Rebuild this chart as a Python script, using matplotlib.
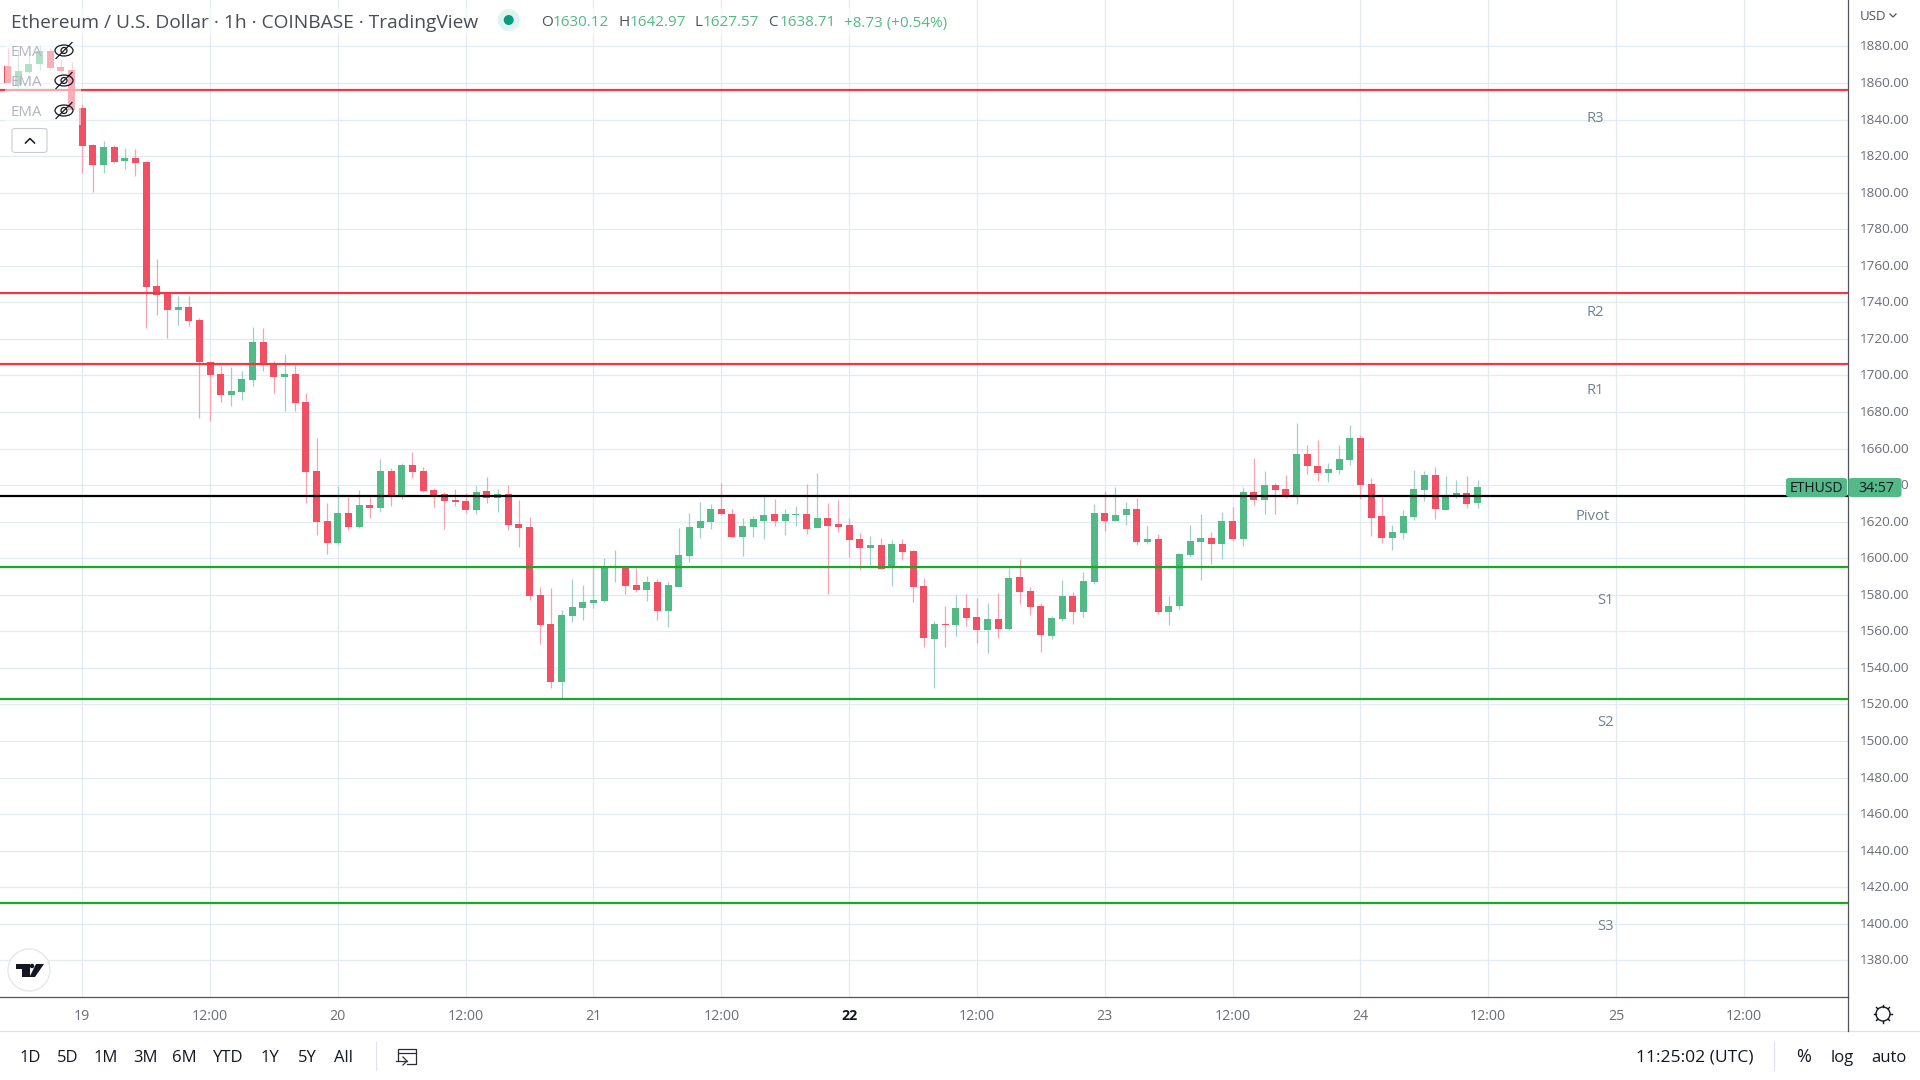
import matplotlib
matplotlib.use("Agg")
import matplotlib.pyplot as plt
from matplotlib.patches import Rectangle, Ellipse, Polygon, FancyBboxPatch
from matplotlib.lines import Line2D
from matplotlib.transforms import ScaledTranslation

plt.rcParams['font.family'] = ['Open Sans', 'DejaVu Sans']

# ---------- data ----------
hours = list(range(-7, 132))
opens = [1869.2,1858.8,1866.0,1870.3,1877.4,1868.7,1867.1,
 1846.3,1826.0,1815.1,1824.9,1817.3,1818.9,1816.7,1748.9,1745.0,1735.7,1737.4,1730.3,1707.3,1700.7,1689.2,1690.9,1697.4,1718.2,1706.8,1699.1,1700.7,1685.4,1647.7,1620.3,
 1608.3,1624.7,1617.0,1629.0,1627.4,1647.7,1634.0,1651.0,1647.7,1637.3,1635.1,1631.8,1631.3,1626.3,1636.7,1632.9,1635.1,1618.7,1617.0,1579.8,1564.0,1532.2,1568.4,1572.7,
 1575.5,1576.6,1595.0,1595.0,1585.3,1582.6,1587.0,1571.1,1584.2,1601.2,1616.5,1619.8,1626.9,1624.1,1611.6,1617.0,1620.3,1624.1,1620.3,1623.6,1624.1,1616.5,1622.0,1618.7,
 1618.1,1610.5,1605.5,1607.2,1595.2,1607.7,1603.9,1584.8,1555.8,1564.0,1563.4,1572.7,1567.8,1560.7,1566.7,1561.2,1589.7,1582.0,1573.8,1557.4,1566.7,1579.3,1570.5,1586.9,
 1624.7,1620.3,1623.6,1626.9,1608.8,1610.5,1570.5,1573.8,1601.7,1608.8,1611.0,1607.7,1620.3,1610.5,1636.2,1631.8,1640.0,1637.8,1634.0,1657.0,1650.4,1646.6,1648.2,1653.7,
 1665.7,1640.5,1623.0,1611.0,1613.8,1622.5,1637.3,1645.5,1626.3,1634.0,1635.6,1630.12]
highs = [1878.9,1878.0,1876.2,1880.7,1878.9,1872.5,1871.2,
 1848.5,1826.6,1828.2,1826.0,1824.4,1823.8,1817.3,1763.6,1745.5,1743.4,1743.4,1731.4,1707.8,1705.1,1704.6,1702.4,1726.4,1725.9,1707.8,1711.7,1705.7,1690.3,1665.7,1630.2,
 1639.5,1633.4,1637.3,1633.4,1654.2,1649.3,1652.0,1658.1,1649.9,1638.4,1636.2,1637.8,1635.6,1639.5,1644.4,1637.8,1640.0,1631.8,1622.5,1584.2,1583.7,1571.6,1588.6,1585.3,
 1596.2,1600.1,1604.5,1596.2,1594.6,1590.2,1588.6,1587.0,1616.5,1624.7,1630.7,1629.6,1641.1,1626.9,1622.0,1623.0,1635.1,1632.4,1626.9,1628.5,1640.6,1646.6,1630.2,1631.8,
 1622.0,1613.8,1612.1,1611.0,1609.9,1610.5,1604.5,1589.1,1565.6,1573.8,1579.8,1580.4,1578.2,1575.5,1580.9,1594.6,1599.5,1584.2,1575.5,1568.3,1588.0,1581.5,1592.4,1629.6,
 1636.7,1638.9,1630.7,1632.9,1617.6,1613.2,1579.3,1602.8,1618.1,1624.1,1614.3,1625.2,1628.0,1638.9,1654.8,1647.6,1641.1,1645.5,1673.9,1661.9,1664.6,1652.0,1661.9,1672.8,
 1667.4,1643.8,1633.4,1618.1,1626.3,1648.2,1647.6,1649.9,1645.0,1642.7,1645.0,1642.97]
lows = [1859.8,1857.0,1865.6,1867.0,1867.2,1866.0,1845.0,
 1810.7,1800.3,1810.7,1816.2,1812.9,1809.1,1725.9,1733.0,1720.4,1727.5,1727.0,1676.7,1675.0,1685.4,1683.2,1686.5,1694.2,1702.4,1690.3,1680.5,1680.5,1630.2,1612.7,1602.3,
 1607.4,1615.4,1616.5,1622.0,1625.2,1628.5,1632.4,1643.8,1636.2,1628.0,1615.9,1628.5,1624.7,1624.1,1630.2,1625.2,1615.4,1606.1,1577.1,1553.0,1529.0,1523.5,1565.0,1566.2,
 1572.7,1576.0,1587.0,1580.4,1581.5,1576.6,1566.2,1562.3,1584.2,1597.9,1611.0,1615.9,1623.6,1611.6,1601.2,1611.6,1610.5,1617.6,1612.7,1617.6,1613.2,1616.5,1580.4,1614.3,
 1600.6,1593.5,1596.2,1594.0,1584.8,1599.0,1576.0,1551.4,1529.0,1551.4,1557.4,1562.9,1553.6,1548.1,1556.3,1560.7,1574.9,1568.9,1548.7,1555.8,1565.6,1564.0,1567.8,1585.8,
 1614.8,1620.3,1618.1,1607.2,1607.7,1569.4,1563.4,1572.2,1600.6,1588.0,1596.8,1599.5,1609.4,1606.6,1629.0,1624.1,1624.1,1632.9,1629.6,1646.0,1642.2,1641.6,1646.0,1651.0,
 1632.3,1612.1,1608.3,1604.4,1610.5,1620.9,1631.3,1621.4,1626.3,1632.9,1627.4,1627.57]
closes = [1859.9,1866.5,1870.3,1877.4,1868.1,1866.3,1845.2,
 1825.5,1815.1,1824.9,1816.7,1818.9,1816.2,1748.3,1744.0,1735.7,1737.4,1729.7,1707.3,1700.2,1689.2,1691.4,1698.0,1718.2,1706.2,1699.1,1700.7,1684.9,1647.1,1619.8,1608.3,
 1624.7,1617.0,1629.0,1627.4,1647.7,1634.0,1651.0,1647.1,1636.7,1634.0,1631.3,1630.7,1626.3,1636.2,1632.9,1635.1,1618.1,1616.5,1579.3,1563.4,1532.2,1568.9,1573.3,1576.0,
 1577.1,1595.2,1595.4,1584.8,1582.6,1587.0,1571.1,1585.3,1601.7,1617.0,1620.3,1626.9,1624.1,1611.6,1617.6,1621.4,1623.6,1620.3,1624.1,1624.1,1615.9,1622.0,1617.6,1617.0,
 1609.9,1605.5,1607.2,1594.0,1607.7,1603.4,1584.2,1556.3,1564.0,1563.4,1572.7,1567.3,1560.7,1566.7,1561.2,1589.1,1581.5,1573.3,1557.9,1567.2,1579.3,1570.5,1587.5,1624.7,
 1620.3,1623.6,1626.9,1608.8,1610.5,1570.5,1573.8,1602.3,1609.4,1611.0,1607.7,1620.3,1610.5,1636.2,1631.8,1640.0,1637.3,1634.0,1657.0,1650.4,1646.6,1648.8,1654.2,1665.7,
 1640.0,1621.9,1611.0,1614.3,1623.0,1637.8,1645.5,1626.9,1633.4,1635.6,1629.6,1638.71]

level_names = ["R3", "R2", "R1", "Pivot", "S1", "S2", "S3"]
level_values = [1856.3, 1745.1, 1706.4, 1634.0, 1595.3, 1523.0, 1411.6]
level_colors = ["#f23645", "#f23645", "#f23645", "#000000", "#15ab27", "#15ab27", "#15ab27"]
level_label_px = [(1595, 116), (1595, 311), (1595, 389), (1593, 514), (1605, 599), (1605, 720), (1605, 924)]

price_ticks = list(range(1380, 1881, 20))
time_ticks = [0, 12, 24, 36, 48, 60, 72, 84, 96, 108, 120, 132, 144, 156]
time_labels = ["19", "12:00", "20", "12:00", "21", "12:00", "22", "12:00", "23", "12:00", "24", "12:00", "25", "12:00"]
ranges = ["1D", "5D", "1M", "3M", "6M", "YTD", "1Y", "5Y", "All"]
range_x = [30, 68, 106, 145, 184, 228, 270, 307, 344]

UP, DOWN = "#53b987", "#ef5063"
UP_W, DOWN_W = "#a3cfcb", "#f7a3b0"
GRID = "#e1ecf2"
AXC = "#50535e"
LBL = "#6a6d78"
DARK = "#131722"

# ---------- layout ----------
W, H = 1920, 1080
fig = plt.figure(figsize=(W / 100, H / 100), dpi=100, facecolor="white")
AX_R, AX_B = 1848.0, 997.0
ax = fig.add_axes([0, 1 - AX_B / H, AX_R / W, AX_B / H])

def fx(x): return x / W
def fy(y): return 1 - y / H
def ftext(x, y, s, **kw):
    kw.setdefault("va", "center")
    return fig.text(fx(x), fy(y + 2), s, zorder=20, **kw)
def fline(xs, ys, color, lw=0.72, z=20, **kw):
    fig.add_artist(Line2D([fx(v) for v in xs], [fy(v) for v in ys], color=color, lw=lw,
                          transform=fig.transFigure, zorder=z, **kw))
def frect(x0, y0, x1, y1, z=15, **kw):
    fig.add_artist(Rectangle((fx(x0), fy(y1)), (x1 - x0) / W, (y1 - y0) / H,
                             transform=fig.transFigure, zorder=z, lw=0, **kw))

PX_PER_H, X0 = 10.652, 82.2
PX_PER_P, Y1880 = 1.828, 46.4
ax.set_xlim(-X0 / PX_PER_H, (AX_R - X0) / PX_PER_H)
ax.set_ylim(1880 - (AX_B - Y1880) / PX_PER_P, 1880 + Y1880 / PX_PER_P)

ax.set_xticks(time_ticks)
ax.set_xticklabels(time_labels)
ax.set_yticks(price_ticks)
ax.set_yticklabels([f"{p:.2f}" for p in price_ticks])
ax.yaxis.tick_right()
ax.tick_params(axis="y", length=0, pad=8.5, labelsize=9.7, labelcolor=LBL)
ax.tick_params(axis="x", length=0, pad=8.5, labelsize=10.2, labelcolor=LBL)
for lab in ax.get_yticklabels():
    lab.set_transform(lab.get_transform() + ScaledTranslation(0, 1 / 100, fig.dpi_scale_trans))
for lab, txt in zip(ax.get_xticklabels(), time_labels):
    if txt == "22":
        lab.set_fontweight("bold")
        lab.set_color(DARK)
ax.grid(True, color=GRID, lw=0.9, zorder=0)
ax.set_axisbelow(True)
for s in ["top", "left"]:
    ax.spines[s].set_visible(False)
for s in ["right", "bottom"]:
    ax.spines[s].set_color(AXC)
    ax.spines[s].set_linewidth(0.9)

# ---------- candles ----------
body_w = 7 / PX_PER_H
for h, o, hi, lo, c in zip(hours, opens, highs, lows, closes):
    up = c >= o
    ax.vlines(h, lo, hi, color=UP_W if up else DOWN_W, lw=0.9, zorder=2)
    ax.bar(h, abs(c - o), bottom=min(o, c), width=body_w, color=UP if up else DOWN, lw=0, zorder=3)

# ---------- pivot levels ----------
for name, val, col, (lx, ly) in zip(level_names, level_values, level_colors, level_label_px):
    ax.axhline(val, color=col, lw=1.6, zorder=4)
    ftext(lx, ly, name, color="#6f8090", fontsize=10.6, ha="center")

# ---------- overlays ----------
frect(5, 38, 81, 125, z=10, color="white", alpha=0.55)
frect(5, 8, 957, 36, z=10, color="white", alpha=0.6)

ftext(11, 21, "Ethereum / U.S. Dollar · 1h · COINBASE · TradingView", color="#4a4d57", fontsize=13.8)
fig.add_artist(Ellipse((fx(508.7), fy(20)), 22 / W, 22 / H, transform=fig.transFigure, color="#dff3ef", zorder=19, lw=0))
fig.add_artist(Ellipse((fx(508.7), fy(20)), 10 / W, 10 / H, transform=fig.transFigure, color="#089981", zorder=20, lw=0))
for x, s, col in [(541, "O", "#50535e"), (553, "1630.12", UP), (618, "H", "#50535e"), (630, "1642.97", UP),
                  (694, "L", "#50535e"), (703, "1627.57", UP), (768, "C", "#50535e"), (780, "1638.71", UP),
                  (844, "+8.73 (+0.54%)", UP)]:
    ftext(x, 21, s, color=col, fontsize=11)

for y in [50.5, 80.5, 110.5]:
    ftext(11, y - 0.5, "EMA", color="#b2b5be", fontsize=10.8)
    fig.add_artist(Ellipse((fx(64), fy(y)), 18 / W, 11 / H, transform=fig.transFigure, fill=False,
                           ec=DARK, lw=0.9, zorder=20))
    fig.add_artist(Ellipse((fx(64), fy(y)), 6 / W, 6 / H, transform=fig.transFigure, fill=False,
                           ec=DARK, lw=0.9, zorder=20))
    fline([56, 72], [y + 8, y - 8], DARK, lw=0.9)

fig.add_artist(FancyBboxPatch((fx(12), fy(152.5)), 35 / W, 24 / H, boxstyle="round,pad=0,rounding_size=0.002",
                              transform=fig.transFigure, fc="white", ec="#c9cbd3", lw=0.8, zorder=20))
fline([25.5, 30, 34.5], [143, 138.5, 143], DARK, lw=1.1)

# TradingView logo
fig.add_artist(Ellipse((fx(29), fy(970)), 42 / W, 42 / H, transform=fig.transFigure, fc="white",
                       ec="#e6e7ea", lw=1.0, zorder=20))
def poly(points, color=DARK):
    fig.add_artist(Polygon([(fx(a), fy(b)) for a, b in points], closed=True, transform=fig.transFigure,
                           fc=color, lw=0, zorder=21))
poly([(16, 964), (29.5, 964), (29.5, 977), (21.5, 977), (21.5, 968.5), (16, 968.5)])
poly([(36, 964), (44, 964), (35, 977), (29.5, 977)])
fig.add_artist(Ellipse((fx(32), fy(966)), 4.5 / W, 4.5 / H, transform=fig.transFigure, fc=DARK, lw=0, zorder=21))

# last price labels
fig.add_artist(FancyBboxPatch((fx(1786), fy(497)), 61 / W, 19 / H, boxstyle="round,pad=0,rounding_size=0.002",
                              transform=fig.transFigure, fc=UP, lw=0, zorder=18))
fig.add_artist(FancyBboxPatch((fx(1848.5), fy(497)), 53 / W, 19 / H, boxstyle="round,pad=0,rounding_size=0.002",
                              transform=fig.transFigure, fc=UP, lw=0, zorder=18))
ftext(1816, 486.5, "ETHUSD", color=DARK, fontsize=10, ha="center")
ftext(1876, 486.5, "34:57", color=DARK, fontsize=10.2, ha="center")
ftext(1860, 14.5, "USD", color="#50535e", fontsize=9.5)
fline([1890, 1893, 1896], [14, 17, 14], "#50535e", lw=0.9)

# frame of the lower bars
fline([0, W], [1031, 1031], "#e0e3eb", lw=0.9, z=5)
fline([AX_R, AX_R], [997, 1031], AXC, lw=0.9, z=5)
fline([376, 376], [1042, 1070], "#e0e3eb", lw=0.9)
fline([1774, 1774], [1042, 1070], "#e0e3eb", lw=0.9)

for x, s in zip(range_x, ranges):
    ftext(x, 1055.5, s, color=DARK, fontsize=12, ha="center")
ftext(1695, 1055.5, "11:25:02 (UTC)", color=DARK, fontsize=12.6, ha="center")
ftext(1804, 1055.5, "%", color=DARK, fontsize=13, ha="center")
ftext(1842, 1055.5, "log", color=DARK, fontsize=12, ha="center")
ftext(1889, 1055.5, "auto", color=DARK, fontsize=12, ha="center")

# calendar icon
fline([398, 398, 416, 416, 407], [1060, 1049, 1049, 1064, 1064], "#2a2e39", lw=0.9)
fline([398, 416], [1053, 1053], "#2a2e39", lw=0.9)
fline([396, 407], [1061, 1061], "#2a2e39", lw=0.9)
fline([403, 407, 403], [1057, 1061, 1065], "#2a2e39", lw=0.9)

# settings icon
fig.add_artist(Ellipse((fx(1883), fy(1014)), 14 / W, 14 / H, transform=fig.transFigure, fill=False,
                       ec=DARK, lw=1.0, zorder=20))
for a, b in [(0, -9), (0, 9), (-9, 0), (9, 0), (-6.5, -6.5), (6.5, -6.5), (-6.5, 6.5), (6.5, 6.5)]:
    fline([1883 + a * 0.8, 1883 + a], [1014 + b * 0.8, 1014 + b], DARK, lw=1.0)

fig.savefig("out.png", dpi=100, facecolor="white")
